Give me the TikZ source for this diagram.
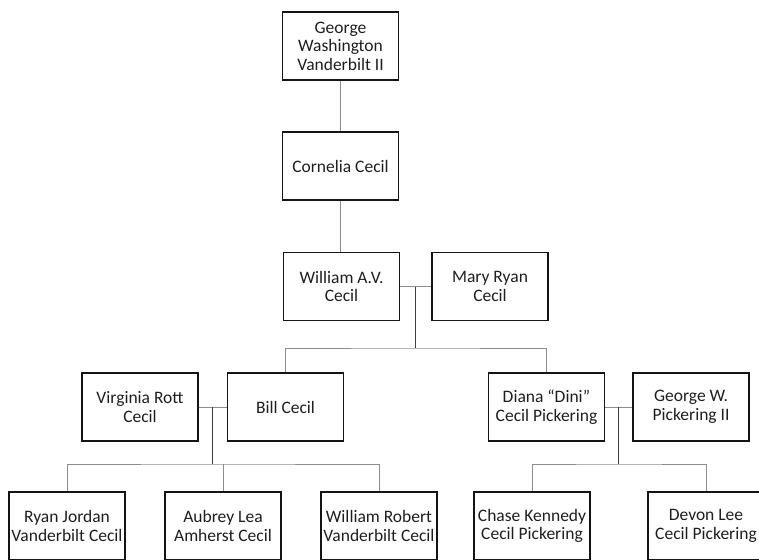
\documentclass[tikz,border=0pt]{standalone}
\usepackage{fontspec}
\setmainfont{Carlito}
\usetikzlibrary{calc}
\definecolor{connc}{RGB}{140,140,140}
\definecolor{dropc}{RGB}{60,60,60}
\definecolor{boxc}{RGB}{20,20,20}
\definecolor{textc}{RGB}{30,30,30}
\begin{document}
\begin{tikzpicture}[x=1pt,y=-1pt,
  person/.style={draw=boxc,line width=1.3pt,minimum width=116,minimum height=68,
    inner sep=0pt,align=center,text=textc,font=\fontsize{17.5}{18.4}\selectfont},
  conn/.style={draw=connc,line width=0.9pt},
  dropline/.style={draw=dropc,line width=0.9pt}]
\useasboundingbox (0,0) rectangle (759,559);
\clip (0,0) rectangle (759,559);
% generation 1-3
\node[person] (geo) at (340.5,46) {George\\Washington\\Vanderbilt II};
\node[person] (corn) at (340.5,166) {Cornelia Cecil};
\node[person] (wil) at (341.5,286.5) {William A.V.\\Cecil};
\node[person] (mary) at (490,286.5) {Mary Ryan\\Cecil};
% generation 4
\node[person] (virg) at (140,407) {Virginia Rott\\Cecil};
\node[person] (bill) at (285.5,407) {Bill Cecil};
\node[person] (diana) at (546.5,407) {Diana “Dini”\\Cecil Pickering};
\node[person] (gwp) at (691,407) {George W.\\Pickering II};
% generation 5
\node[person] (ryan) at (67,526) {Ryan Jordan\\Vanderbilt Cecil};
\node[person] (aub) at (223,526) {Aubrey Lea\\Amherst Cecil};
\node[person] (wrob) at (379,526) {William Robert\\Vanderbilt Cecil};
\node[person] (chase) at (532,526) {Chase Kennedy\\Cecil Pickering};
\node[person] (devon) at (706,526) {Devon Lee\\Cecil Pickering};
% coordinates
\coordinate (m1) at ($(wil.east)!0.5!(mary.west)$);
\coordinate (b1) at (m1 |- 0,348);
\coordinate (m2) at ($(virg.east)!0.5!(bill.west)$);
\coordinate (b2) at (m2 |- 0,464);
\coordinate (m3) at ($(diana.east)!0.5!(gwp.west)$);
\coordinate (b3) at (m3 |- 0,464);
% connectors
\draw[conn] (geo.south) -- (geo.south |- corn.north);
\draw[conn] (corn.south) -- (corn.south |- wil.north);
\draw[conn] (wil.east) -- (mary.west);
\draw[dropline] (m1) -- (b1);
\draw[conn] (bill.north) |- (b1) -| (diana.north);
\draw[conn] (virg.east) -- (bill.west);
\draw[dropline] (m2) -- (b2);
\draw[conn] (ryan.north) |- (b2) -| (wrob.north);
\draw[conn] (aub.north) -- (aub.north |- b2);
\draw[conn] (diana.east) -- (gwp.west);
\draw[dropline] (m3) -- (b3);
\draw[conn] (chase.north) |- (b3) -| (devon.north);
\end{tikzpicture}
\end{document}
